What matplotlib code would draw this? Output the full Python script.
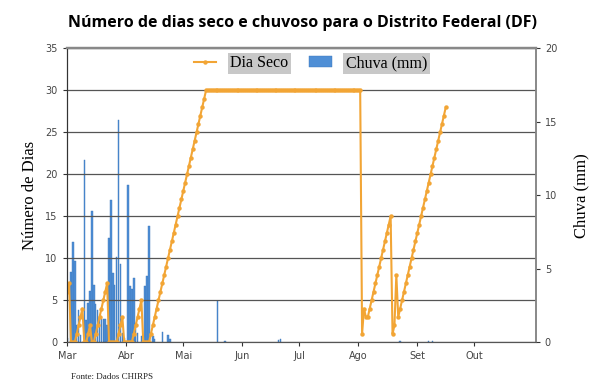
import matplotlib
matplotlib.use("Agg")
import matplotlib.pyplot as plt

# Dias contados a partir de 1 de março (dia 0)
month_ticks = [0, 31, 61, 92, 122, 153, 184, 214]
month_labels = ["Mar", "Abr", "Mai", "Jun", "Jul", "Ago", "Set", "Out"]

# Dias secos consecutivos (um valor por dia, dia 0 .. 199)
dia_seco = [
    6, 7, 0, 0, 0, 1, 2, 3, 4, 0,
    0, 1, 2, 0, 0, 1, 2, 3, 4, 5,
    6, 7, 0, 0, 0, 0, 0, 1, 2, 3,
    0, 0, 0, 0, 0, 1, 2, 3, 4, 5,
    0, 0, 0, 0, 1, 2, 3, 4, 5, 6,
    7, 8, 9, 10, 11, 12, 13, 14, 15, 16,
    17, 18, 19, 20, 21, 22, 23, 24, 25, 26,
    27, 28, 29, 30, 30, 30, 30, 30, 30, 30,
    30, 30, 30, 30, 30, 30, 30, 30, 30, 30,
    30, 30, 30, 30, 30, 30, 30, 30, 30, 30,
    30, 30, 30, 30, 30, 30, 30, 30, 30, 30,
    30, 30, 30, 30, 30, 30, 30, 30, 30, 30,
    30, 30, 30, 30, 30, 30, 30, 30, 30, 30,
    30, 30, 30, 30, 30, 30, 30, 30, 30, 30,
    30, 30, 30, 30, 30, 30, 30, 30, 30, 30,
    30, 30, 30, 30, 30, 1, 4, 3, 3, 4,
    5, 6, 7, 8, 9, 10, 11, 12, 13, 14,
    15, 1, 2, 8, 3, 4, 5, 6, 7, 8,
    9, 10, 11, 12, 13, 14, 15, 16, 17, 18,
    19, 20, 21, 22, 23, 24, 25, 26, 27, 28,
]
dias = list(range(len(dia_seco)))

# Chuva diária (mm)
chuva_dias = [0, 2, 3, 4, 5, 6, 7, 9, 10, 11, 12, 13, 14, 15, 16, 17, 18, 19,
              20, 21, 22, 23, 24, 25, 26, 27, 28, 29, 30, 32, 33, 34, 35, 36,
              37, 39, 41, 42, 43, 45, 46, 50, 53, 54, 79, 83, 111, 112, 175,
              190, 192]
chuva_mm = [0.3, 4.8, 6.8, 5.5, 1.2, 2.2, 0.5, 12.4, 1.5, 2.7, 3.5, 8.9, 3.9,
            2.6, 2.2, 1.7, 1.6, 1.6, 1.6, 1.2, 7.1, 9.7, 4.7, 3.9, 5.8, 15.1,
            5.3, 0.6, 0.3, 10.7, 3.8, 3.6, 4.4, 1.3, 0.6, 0.4, 3.8, 4.5, 7.9,
            0.4, 0.2, 0.7, 0.5, 0.2, 2.8, 0.1, 0.15, 0.2, 0.1, 0.08, 0.1]

laranja = "#f2a535"
azul = "#4f8fd6"

fig = plt.figure(figsize=(6, 3.82), dpi=100)
ax = fig.add_axes([0.111, 0.104, 0.782, 0.7695])
ax2 = ax.twinx()

# barras de chuva no eixo da direita, linha por cima
barras = ax2.bar(chuva_dias, chuva_mm, width=0.8, color=azul,
                 edgecolor="#3b76bb", linewidth=0.3)
ax.set_zorder(ax2.get_zorder() + 1)
ax.patch.set_visible(False)

linha, = ax.plot(dias, dia_seco, color=laranja, linewidth=1.5,
                 marker="o", markersize=3.2, markeredgewidth=0)

ax.set_xlim(-0.3, 246.3)
ax.set_ylim(0, 35)
ax2.set_ylim(0, 20)
ax.set_yticks(range(0, 36, 5))
ax2.set_yticks(range(0, 21, 5))
ax.set_xticks(month_ticks)
ax.set_xticklabels(month_labels)

ax.grid(axis="y", color="#555555", linewidth=0.9)
ax.grid(axis="x", visible=False)

for a in (ax, ax2):
    a.spines["top"].set_color("#888888")
    a.spines["top"].set_linewidth(1.6)
    a.spines["right"].set_color("#888888")
    a.spines["right"].set_linewidth(1.2)
    a.spines["left"].set_color("#333333")
    a.spines["bottom"].set_color("#555555")
    a.tick_params(direction="out", length=3, width=0.8, labelsize=7,
                  colors="#333333", labelcolor="#444444")

ax.set_ylabel("Número de Dias", family="Liberation Serif", fontsize=12,
              labelpad=5)
ax2.set_ylabel("Chuva (mm)", family="Liberation Serif", fontsize=12,
               labelpad=12)

fig.text(0.505, 0.94, "Número de dias seco e chuvoso para o Distrito Federal (DF)",
         ha="center", va="center", family="Open Sans", fontweight="bold",
         fontsize=11.5)

leg = ax.legend([linha, barras], ["Dia Seco", "Chuva (mm)"], ncol=2,
                loc="upper center", bbox_to_anchor=(0.52, 1.025), frameon=False,
                prop={"family": "Liberation Serif", "size": 11.5},
                handlelength=1.4, handletextpad=0.9, columnspacing=1.3)
for t in leg.get_texts():
    t.set_bbox(dict(facecolor="#c8c8c8", edgecolor="none", pad=2))

fig.text(0.118, 0.013, "Fonte: Dados CHIRPS", family="Liberation Serif",
         fontsize=6.5, ha="left", va="center", color="#222222")

fig.savefig("out.png", dpi=100)
